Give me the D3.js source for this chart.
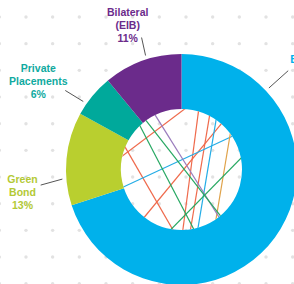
<!DOCTYPE html>
<html>
<head>
<meta charset="utf-8">
<script src="https://cdn.jsdelivr.net/npm/d3@7"></script>
<style>
  body { margin: 0; background: #fff; }
  svg { display: block; }
</style>
</head>
<body>
<svg id="chart" width="294" height="284"></svg>
<script>
// funding mix, share of total (%)
const categories = ['Bonds', 'Green Bond', 'Private Placements', 'Bilateral (EIB)'];
const shares = [70, 13, 6, 11];
const labelLines = [['Bonds'], ['Green', 'Bond'], ['Private', 'Placements'], ['Bilateral', '(EIB)']];

// decorative chords inside the hole: [start angle, end angle] in degrees, clockwise from top
const chordColors = ['red', 'red', 'red', 'red', 'red', 'blue', 'blue', 'orange', 'purple', 'green', 'green', 'green'];
const chordStarts = [5, 16, 27, 41, 293, 253, 34, 52, 334, 317, 324, 78];
const chordEnds = [281, 179, 172, 218, 187, 57, 165, 147, 142, 168, 140, 191];

const width = 294, height = 284;
const cx = 181.5, cy = 169.5;
const outerR = 115.5, innerR = 60.5;

const colors = {
  'Bonds': '#00b1eb',
  'Green Bond': '#b9cf2f',
  'Private Placements': '#00a99b',
  'Bilateral (EIB)': '#6b2b8b',
};
const textColors = {
  'Bonds': '#00b1eb',
  'Green Bond': '#b3c935',
  'Private Placements': '#10aaa0',
  'Bilateral (EIB)': '#6b2b8b',
};
const chordPalette = {
  red: '#ef6a4c',
  blue: '#25ade6',
  orange: '#dfa24a',
  purple: '#9a7cbd',
  green: '#27a862',
};

// where each label and its leader sit (the Bonds label runs off the right edge, as in the source)
const labelLayout = {
  'Bonds': { x: 306.5, y: 63, angle: 47, dx: 19.3, dy: -17.3 },
  'Green Bond': { x: 22.5, y: 182.5, angle: 265.4, dx: -21.7, dy: 6 },
  'Private Placements': { x: 38.3, y: 72, angle: 304.7, dx: -18, dy: -11 },
  'Bilateral (EIB)': { x: 127.7, y: 15.5, angle: 342.5, dx: -4, dy: -18 },
};

const svg = d3.select('#chart');

// background dot grid
const step = 26.67;
const dotX = d3.range(-0.7, width + 2, step);
const dotY = d3.range(17, height + 2, step);
svg.append('g')
  .selectAll('circle')
  .data(d3.cross(dotX, dotY))
  .join('circle')
  .attr('cx', (d) => d[0])
  .attr('cy', (d) => d[1])
  .attr('r', 1.7)
  .attr('fill', '#e2e2e2');

const data = categories.map((c, i) => ({ name: c, value: shares[i], lines: labelLines[i] }));

const pie = d3.pie()
  .value((d) => d.value)
  .sort(null);

const arc = d3.arc()
  .innerRadius(innerR)
  .outerRadius(outerR);

const g = svg.append('g').attr('transform', `translate(${cx},${cy})`);

g.selectAll('path.slice')
  .data(pie(data))
  .join('path')
  .attr('class', 'slice')
  .attr('d', arc)
  .attr('fill', (d) => colors[d.data.name]);

// white hole with crossing lines
svg.append('clipPath')
  .attr('id', 'hole')
  .append('circle')
  .attr('r', innerR);

const toXY = (deg, r) => {
  const a = (deg * Math.PI) / 180;
  return [r * Math.sin(a), -r * Math.cos(a)];
};

const chords = chordStarts.map((s, i) => ({ s, e: chordEnds[i], color: chordPalette[chordColors[i]] }));

g.append('g')
  .attr('clip-path', 'url(#hole)')
  .selectAll('line')
  .data(chords)
  .join('line')
  .attr('x1', (d) => toXY(d.s, innerR + 2)[0])
  .attr('y1', (d) => toXY(d.s, innerR + 2)[1])
  .attr('x2', (d) => toXY(d.e, innerR + 2)[0])
  .attr('y2', (d) => toXY(d.e, innerR + 2)[1])
  .attr('stroke', (d) => d.color)
  .attr('stroke-width', 1.2);

// leaders
g.selectAll('line.leader')
  .data(data)
  .join('line')
  .attr('class', 'leader')
  .each(function (d) {
    const L = labelLayout[d.name];
    const p = toXY(L.angle, outerR + 4);
    d3.select(this)
      .attr('x1', p[0])
      .attr('y1', p[1])
      .attr('x2', p[0] + L.dx)
      .attr('y2', p[1] + L.dy);
  })
  .attr('stroke', '#555')
  .attr('stroke-width', 1);

// labels
const total = d3.sum(shares);
svg.selectAll('text.label')
  .data(data)
  .join('text')
  .attr('class', 'label')
  .attr('x', (d) => labelLayout[d.name].x)
  .attr('y', (d) => labelLayout[d.name].y)
  .attr('text-anchor', 'middle')
  .attr('fill', (d) => textColors[d.name])
  .style('font-family', '"Liberation Sans", Arial, sans-serif')
  .style('font-size', '10.5px')
  .style('font-weight', 'bold')
  .each(function (d) {
    const t = d3.select(this);
    const rows = [...d.lines, Math.round((d.value / total) * 100) + '%'];
    rows.forEach((row, i) => {
      t.append('tspan')
        .attr('x', labelLayout[d.name].x)
        .attr('dy', i === 0 ? 0 : 13)
        .text(row);
    });
  });
</script>
</body>
</html>
